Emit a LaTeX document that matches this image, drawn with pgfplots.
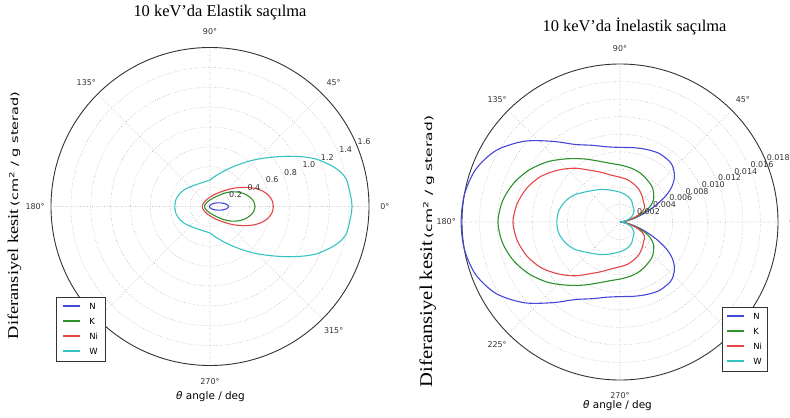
\documentclass[border=0pt]{standalone}
\usepackage{fontspec}
\setmainfont{Liberation Serif}
\setsansfont{DejaVu Sans}
\usepackage{graphicx}
\usepackage{pgfplots}
\pgfplotsset{compat=1.18}
\usepgfplotslibrary{polar}

\definecolor{cN}{RGB}{70,70,215}
\definecolor{cK}{RGB}{45,145,45}
\definecolor{cNi}{RGB}{228,70,70}
\definecolor{cW}{RGB}{55,195,195}

\tikzset{
  ticklab/.style={font=\fontsize{8}{9.5}\sffamily, text=black!80},
  keybox/.style={draw=black!80, line width=0.8bp, fill=white, inner ysep=3.5bp,
    font=\fontsize{8.5}{12}\sffamily, anchor=south west},
}
% one legend row: coloured line swatch followed by the element name
\newcommand{\keyrow}[2]{\textcolor{#1}{\rule[2.7bp]{17bp}{1.7bp}} & #2}
\newcommand{\elementkey}{%
  \begin{tabular}{@{}l@{\hspace{9bp}}l@{}}
    \keyrow{cN}{N}\\[3bp]
    \keyrow{cK}{K}\\[3bp]
    \keyrow{cNi}{Ni}\\[3bp]
    \keyrow{cW}{W}
  \end{tabular}}

\pgfplotsset{
  scatpolar/.style={
    scale only axis,
    xmin=0, xmax=360,
    xtick={0,45,90,135,180,225,270,315}, xticklabels={},
    yticklabels={}, scaled y ticks=false,
    major tick length=0pt,
    grid=major,
    major grid style={dotted, black!40, line width=0.6bp},
    axis line style={black!80, line width=0.9bp},
    y axis line style={draw=none},
    clip=false,
    every axis plot/.append style={line width=1.1bp, smooth},
  },
}

\begin{document}
\begin{tikzpicture}
\useasboundingbox (0,0) rectangle (790bp,418bp);

% ---------- elastic scattering ----------
\begin{polaraxis}[scatpolar,
  at={(210bp,211.5bp)}, anchor=center,
  width=318bp, height=318bp,
  ymin=0, ymax=1.6,
  ytick={0.2,0.4,0.6,0.8,1.0,1.2,1.4},
]
\addplot[color=cN] coordinates {(0,0.186)(4.0,0.181)(8.3,0.166)(13.1,0.142)(18.9,0.113)(26.4,0.083)(37.0,0.054)(54.1,0.030)(86.7,0.013)(119,0.0074)(180,0.005)
 (241,0.0074)(273.3,0.013)(305.9,0.030)(323.0,0.054)(333.6,0.083)(341.1,0.113)(346.9,0.142)(351.7,0.166)(356.0,0.181)(360,0.186)};
\addplot[color=cK] coordinates {(0,0.453)(5.8,0.445)(10.1,0.429)(14.4,0.405)(18.4,0.382)(22.9,0.349)(27.2,0.317)(31.5,0.283)(35.9,0.249)(40.6,0.212)(46.2,0.174)(53.5,0.135)(65.6,0.097)(90,0.066)(117.5,0.054)(146.9,0.052)(167.0,0.054)(180,0.054)
 (193.0,0.054)(213.1,0.052)(242.5,0.054)(270,0.066)(294.4,0.097)(306.5,0.135)(313.8,0.174)(319.4,0.212)(324.1,0.249)(328.5,0.283)(332.8,0.317)(337.1,0.349)(341.6,0.382)(345.6,0.405)(349.9,0.429)(354.2,0.445)(360,0.453)};
\addplot[color=cNi] coordinates {(0,0.637)(4.6,0.631)(9.0,0.611)(13.0,0.583)(16.1,0.555)(19.1,0.522)(22.0,0.488)(25.3,0.445)(28.7,0.402)(32.3,0.357)(36.5,0.313)(41.2,0.267)(46.8,0.221)(55.0,0.176)(67.7,0.133)(84.3,0.101)(104.0,0.083)(127.8,0.074)(151.7,0.074)(168.7,0.077)(180,0.077)
 (191.3,0.077)(208.3,0.074)(232.2,0.074)(256.0,0.083)(275.7,0.101)(292.3,0.133)(305.0,0.176)(313.2,0.221)(318.8,0.267)(323.5,0.313)(327.7,0.357)(331.3,0.402)(334.7,0.445)(338.0,0.488)(340.9,0.522)(343.9,0.555)(347.0,0.583)(351.0,0.611)(355.4,0.631)(360,0.637)};
\addplot[color=cW] coordinates {(0,1.429)(2.6,1.425)(6.5,1.413)(11.0,1.401)(14.6,1.362)(17.9,1.303)(20.9,1.239)(23.9,1.174)(26.6,1.102)(29.0,1.035)(32.8,0.933)(36.7,0.837)(41.4,0.738)(47.0,0.639)(52.8,0.549)(59.7,0.464)(66.3,0.401)(73.2,0.349)(82.3,0.300)(90,0.267)(101.4,0.255)(113.3,0.254)(129.3,0.270)(142.0,0.297)(149.7,0.315)(156.3,0.330)(162.9,0.342)(169.3,0.351)(175.1,0.353)(180,0.354)
 (184.9,0.353)(190.7,0.351)(197.1,0.342)(203.7,0.330)(210.3,0.315)(218.0,0.297)(230.7,0.270)(246.7,0.254)(258.6,0.255)(270,0.267)(277.7,0.300)(286.8,0.349)(293.7,0.401)(300.3,0.464)(307.2,0.549)(313.0,0.639)(318.6,0.738)(323.3,0.837)(327.2,0.933)(331.0,1.035)(333.4,1.102)(336.1,1.174)(339.1,1.239)(342.1,1.303)(345.4,1.362)(349.0,1.401)(353.5,1.413)(357.4,1.425)(360,1.429)};
% angle labels (225 sits under the key box)
\pgfplotsinvokeforeach{0,45,90,135,180,270,315}{
  \node[ticklab] at (axis cs:#1,1.76) {#1°};}
\pgfplotsinvokeforeach{0.2,0.4,0.6,0.8,1.0,1.2,1.4,1.6}{
  \node[ticklab, anchor=south west, inner sep=0.6bp] at (axis cs:22.5,#1) {#1};}
\end{polaraxis}

% ---------- inelastic scattering ----------
\begin{polaraxis}[scatpolar,
  at={(620bp,196bp)}, anchor=center,
  width=316bp, height=316bp,
  ymin=0, ymax=0.018,
  ytick={0.002,0.004,0.006,0.008,0.010,0.012,0.014,0.016},
]
\addplot[color=cN] coordinates {(0,0)(5,0.0002)(10,0.0008)(15,0.0018)(20,0.0030)(25,0.0045)(30,0.0061)(35,0.0073)(40,0.0081)(45,0.0086)(50,0.0089)(60,0.0090)(70,0.0088)(80,0.0086)(90,0.0085)(100,0.0087)(110,0.0093)(120,0.0102)(130,0.0120)(140,0.0143)(150,0.0163)(160,0.0175)(170,0.0180)(180,0.0181)
 (190,0.0180)(200,0.0175)(210,0.0163)(220,0.0143)(230,0.0120)(240,0.0102)(250,0.0093)(260,0.0087)(270,0.0085)(280,0.0086)(290,0.0088)(300,0.0090)(310,0.0089)(315,0.0086)(320,0.0081)(325,0.0073)(330,0.0061)(335,0.0045)(340,0.0030)(345,0.0018)(350,0.0008)(355,0.0002)(360,0)};
\addplot[color=cK] coordinates {(0,0)(5,0.0002)(10,0.0007)(15,0.0015)(20,0.0025)(25,0.0035)(30,0.0042)(35,0.0047)(40,0.0050)(45,0.0053)(50,0.0055)(60,0.0058)(70,0.0061)(80,0.0063)(90,0.0065)(100,0.0068)(110,0.0074)(120,0.0083)(130,0.0094)(140,0.0107)(150,0.0119)(160,0.0129)(170,0.0136)(180,0.0139)
 (190,0.0136)(200,0.0129)(210,0.0119)(220,0.0107)(230,0.0094)(240,0.0083)(250,0.0074)(260,0.0068)(270,0.0065)(280,0.0063)(290,0.0061)(300,0.0058)(310,0.0055)(315,0.0053)(320,0.0050)(325,0.0047)(330,0.0042)(335,0.0035)(340,0.0025)(345,0.0015)(350,0.0007)(355,0.0002)(360,0)};
\addplot[color=cNi] coordinates {(0,0)(5,0.00015)(10,0.0006)(15,0.0013)(20,0.0021)(25,0.0028)(30,0.0032)(35,0.0034)(40,0.0035)(50,0.0039)(60,0.0043)(70,0.0046)(80,0.0049)(90,0.0051)(100,0.0054)(110,0.0060)(120,0.0068)(130,0.0080)(140,0.0092)(150,0.0104)(160,0.0113)(170,0.0119)(180,0.0122)
 (190,0.0119)(200,0.0113)(210,0.0104)(220,0.0092)(230,0.0080)(240,0.0068)(250,0.0060)(260,0.0054)(270,0.0051)(280,0.0049)(290,0.0046)(300,0.0043)(310,0.0039)(320,0.0035)(325,0.0034)(330,0.0032)(335,0.0028)(340,0.0021)(345,0.0013)(350,0.0006)(355,0.00015)(360,0)};
\addplot[color=cW] coordinates {(0,0)(5,0.0001)(10,0.0004)(15,0.0008)(20,0.0012)(25,0.0015)(30,0.0017)(40,0.0021)(50,0.0023)(60,0.0027)(70,0.0030)(80,0.0032)(90,0.0034)(100,0.0036)(110,0.0039)(120,0.0043)(130,0.0047)(140,0.0053)(150,0.0061)(160,0.0067)(170,0.0071)(180,0.0072)
 (190,0.0071)(200,0.0067)(210,0.0061)(220,0.0053)(230,0.0047)(240,0.0043)(250,0.0039)(260,0.0036)(270,0.0034)(280,0.0032)(290,0.0030)(300,0.0027)(310,0.0023)(320,0.0021)(330,0.0017)(335,0.0015)(340,0.0012)(345,0.0008)(350,0.0004)(355,0.0001)(360,0)};
% angle labels (315 sits under the key box)
\pgfplotsinvokeforeach{0,45,90,135,180,225,270}{
  \node[ticklab] at (axis cs:#1,0.0198) {#1°};}
\pgfplotsinvokeforeach{0.002,0.004,0.006,0.008,0.010,0.012,0.014,0.016,0.018}{
  \node[ticklab, anchor=south west, inner sep=0.6bp] at (axis cs:22.5,#1) {#1};}
\end{polaraxis}

% element keys
\node[keybox, inner xsep=7bp] at (56bp,56bp) {\elementkey};
\node[keybox, inner xsep=5bp] at (722bp,46bp) {\elementkey};

% titles
\node[anchor=base, font=\fontsize{16.5}{19}\selectfont] at (220bp,401bp) {10 keV'da Elastik saçılma};
\node[anchor=base, font=\fontsize{16.5}{19}\selectfont] at (634.5bp,386bp) {10 keV'da İnelastik saçılma};

% radial axis titles
\node[rotate=90, anchor=base, inner sep=0pt] at (18bp,202.5bp)
  {\scalebox{1.23}[1]{\fontsize{15}{18}\selectfont Diferansiyel kesit}\hspace{3bp}\scalebox{1.45}[1]{\fontsize{10}{12}\sffamily (cm\textsuperscript{2} / g sterad)}};
\node[rotate=90, anchor=base, inner sep=0pt] at (432bp,166.5bp)
  {\scalebox{1.15}[1]{\fontsize{18}{21}\selectfont Diferansiyel kesit}\hspace{3bp}\scalebox{1.55}[1]{\fontsize{10}{12}\sffamily (cm\textsuperscript{2} / g sterad)}};

% angle axis titles
\node[font=\fontsize{10.5}{12}\sffamily] at (210.5bp,21bp) {\textit{θ} angle / deg};
\node[font=\fontsize{10.5}{12}\sffamily] at (617.5bp,12bp) {\textit{θ} angle / deg};
\end{tikzpicture}
\end{document}
